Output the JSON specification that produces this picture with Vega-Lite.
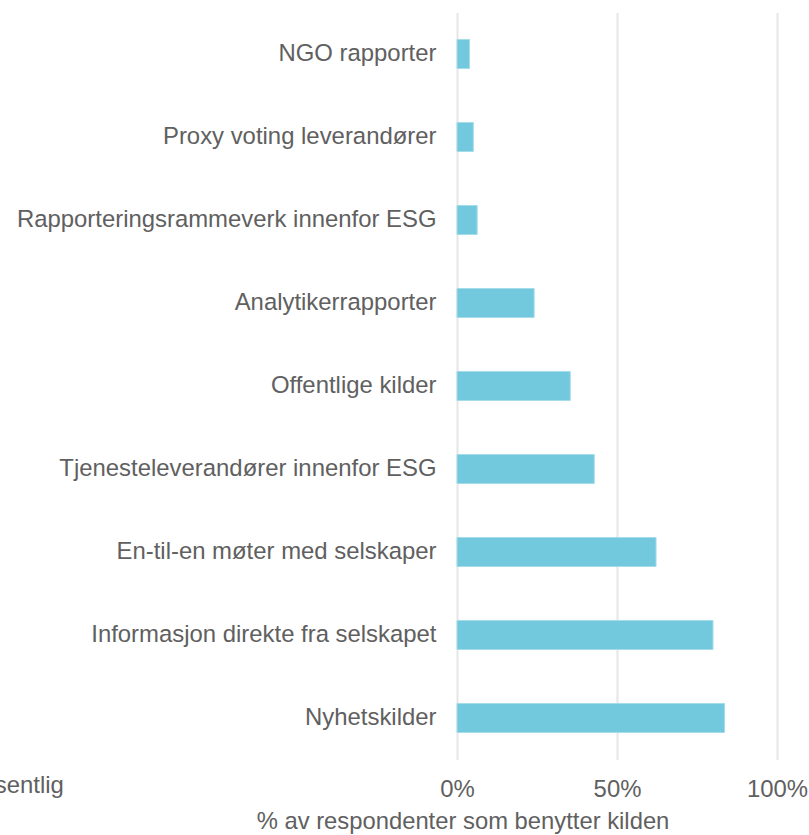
{
  "$schema": "https://vega.github.io/schema/vega-lite/v6.json",
  "width": 320,
  "height": 747,
  "autosize": {"type": "none"},
  "padding": {"left": 457, "top": 12.5, "right": 32, "bottom": 75.5},
  "background": "white",
  "config": {"view": {"stroke": null}, "font": "Liberation Sans"},
  "data": {
    "values": [
      {"kilde": "NGO rapporter", "andel": 0.039, "type": "Vesentlig"},
      {"kilde": "Proxy voting leverandører", "andel": 0.051, "type": "Vesentlig"},
      {"kilde": "Rapporteringsrammeverk innenfor ESG", "andel": 0.063, "type": "Vesentlig"},
      {"kilde": "Analytikerrapporter", "andel": 0.241, "type": "Vesentlig"},
      {"kilde": "Offentlige kilder", "andel": 0.354, "type": "Vesentlig"},
      {"kilde": "Tjenesteleverandører innenfor ESG", "andel": 0.429, "type": "Vesentlig"},
      {"kilde": "En-til-en møter med selskaper", "andel": 0.622, "type": "Vesentlig"},
      {"kilde": "Informasjon direkte fra selskapet", "andel": 0.80, "type": "Vesentlig"},
      {"kilde": "Nyhetskilder", "andel": 0.836, "type": "Vesentlig"}
    ]
  },
  "mark": {"type": "bar", "stroke": "#A6DCEA", "strokeWidth": 1},
  "encoding": {
    "y": {
      "field": "kilde",
      "type": "nominal",
      "sort": null,
      "scale": {"paddingInner": 0.65, "paddingOuter": 0.325},
      "axis": {
        "title": null,
        "domain": false,
        "ticks": false,
        "grid": false,
        "labelPadding": 21,
        "labelFontSize": 23.9,
        "labelColor": "#606060",
        "labelLimit": 600
      }
    },
    "x": {
      "field": "andel",
      "type": "quantitative",
      "scale": {"domain": [0, 1]},
      "axis": {
        "values": [0, 0.5, 1],
        "format": "%",
        "domain": false,
        "ticks": false,
        "grid": true,
        "gridColor": "#E6E6E6",
        "gridWidth": 2,
        "labelFontSize": 23.9,
        "labelColor": "#606060",
        "labelPadding": 18,
        "labelFlush": false,
        "title": "% av respondenter som benytter kilden",
        "titleFontSize": 23.8,
        "titleFontWeight": "normal",
        "titleColor": "#606060",
        "titleX": 5.5,
        "titleY": 68.5,
        "titleAlign": "center",
        "titleBaseline": "alphabetic"
      }
    },
    "color": {
      "field": "type",
      "type": "nominal",
      "scale": {"range": ["#72C8DC"]},
      "legend": {
        "orient": "none",
        "legendX": -518,
        "legendY": 762,
        "title": null,
        "labelFontSize": 23.9,
        "labelColor": "#606060",
        "symbolType": "square",
        "symbolSize": 300
      }
    }
  }
}
